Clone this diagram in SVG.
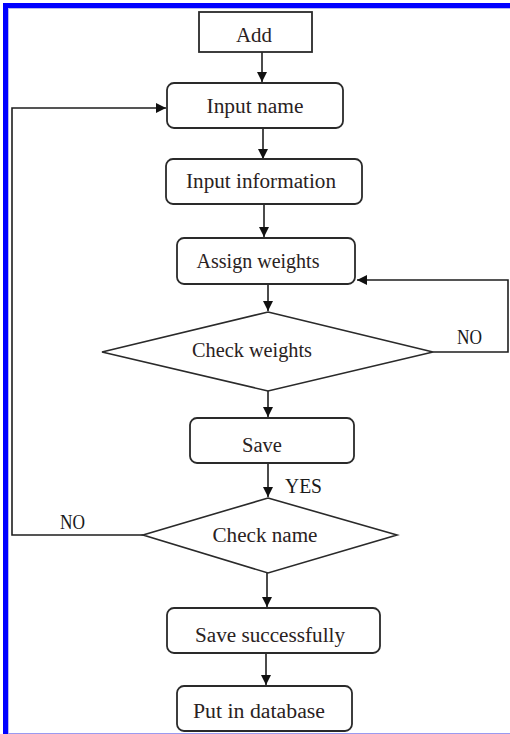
<svg xmlns="http://www.w3.org/2000/svg" width="510" height="734" viewBox="0 0 510 734">
  <style>
    .box { fill: #ffffff; stroke: #2a2a2a; stroke-width: 1.8; }
    .dia { fill: #ffffff; stroke: #2a2a2a; stroke-width: 1.6; }
    .lbl { font-family: "Liberation Serif", "Times New Roman", serif; font-size: 20px; fill: #2a2222; text-anchor: middle; }
    .yn { font-family: "Liberation Serif", "Times New Roman", serif; font-size: 21px; fill: #1a1a1a; }
    .ln { fill: none; stroke: #1e1e1e; stroke-width: 1.6; }
  </style>
  <defs>
    <marker id="arr" viewBox="0 0 10 10" refX="10" refY="5" markerWidth="10" markerHeight="10" markerUnits="userSpaceOnUse" orient="auto">
      <path d="M0,0 L10,5 L0,10 Z" fill="#111111"/>
    </marker>
  </defs>
  <rect x="0" y="0" width="510" height="734" fill="#ffffff"/>
  <g id="frame">
    <rect x="3" y="3" width="507" height="5" fill="#0000ff"/>
    <rect x="3" y="3" width="5" height="731" fill="#0000ff"/>
    <line x1="8" y1="8.5" x2="510" y2="8.5" stroke="#b8b8f0" stroke-width="1"/>
    <line x1="8.5" y1="8" x2="8.5" y2="734" stroke="#b8b8f0" stroke-width="1"/>
    <line x1="8" y1="733.5" x2="510" y2="733.5" stroke="#9a9af0" stroke-width="1"/>
  </g>
  <g id="connectors">
    <line class="ln" x1="262" y1="52" x2="262" y2="82" marker-end="url(#arr)"/>
    <line class="ln" x1="263" y1="128" x2="263" y2="159" marker-end="url(#arr)"/>
    <line class="ln" x1="264" y1="204" x2="264" y2="237" marker-end="url(#arr)"/>
    <line class="ln" x1="268" y1="284" x2="268" y2="311" marker-end="url(#arr)"/>
    <line class="ln" x1="268" y1="391" x2="268" y2="417" marker-end="url(#arr)"/>
    <line class="ln" x1="268" y1="463" x2="268" y2="497" marker-end="url(#arr)"/>
    <line class="ln" x1="267" y1="573" x2="267" y2="607" marker-end="url(#arr)"/>
    <line class="ln" x1="266" y1="653" x2="266" y2="685" marker-end="url(#arr)"/>
    <polyline class="ln" points="433,352 508,352 508,280 357,280" marker-end="url(#arr)"/>
    <polyline class="ln" points="143,535 12,535 12,108 166,108" marker-end="url(#arr)"/>
    <text class="yn" x="457" y="344" textLength="25" lengthAdjust="spacingAndGlyphs">NO</text>
    <text class="yn" x="285" y="493" textLength="37" lengthAdjust="spacingAndGlyphs">YES</text>
    <text class="yn" x="60" y="529" textLength="25" lengthAdjust="spacingAndGlyphs">NO</text>
  </g>
  <g id="add">
    <rect class="box" x="199" y="12" width="113" height="40"/>
    <text class="lbl" x="254" y="42" textLength="36" lengthAdjust="spacingAndGlyphs">Add</text>
  </g>
  <g id="input-name">
    <rect class="box" x="167" y="83" width="176" height="45" rx="7"/>
    <text class="lbl" x="255" y="113" textLength="97" lengthAdjust="spacingAndGlyphs">Input name</text>
  </g>
  <g id="input-information">
    <rect class="box" x="166" y="159" width="196" height="45" rx="7"/>
    <text class="lbl" x="261" y="188" textLength="150" lengthAdjust="spacingAndGlyphs">Input information</text>
  </g>
  <g id="assign-weights">
    <rect class="box" x="177" y="238" width="178" height="46" rx="7"/>
    <text class="lbl" x="258" y="268" textLength="123" lengthAdjust="spacingAndGlyphs">Assign weights</text>
  </g>
  <g id="check-weights">
    <polygon class="dia" points="268,312 433,352 268,391 102,352"/>
    <text class="lbl" x="252" y="357" textLength="120" lengthAdjust="spacingAndGlyphs">Check weights</text>
  </g>
  <g id="save">
    <rect class="box" x="190" y="418" width="164" height="45" rx="7"/>
    <text class="lbl" x="262" y="452" textLength="40" lengthAdjust="spacingAndGlyphs">Save</text>
  </g>
  <g id="check-name">
    <polygon class="dia" points="268,498 397,535 268,573 143,535"/>
    <text class="lbl" x="265" y="542" textLength="105" lengthAdjust="spacingAndGlyphs">Check name</text>
  </g>
  <g id="save-successfully">
    <rect class="box" x="167" y="608" width="213" height="45" rx="7"/>
    <text class="lbl" x="270" y="642" textLength="150" lengthAdjust="spacingAndGlyphs">Save successfully</text>
  </g>
  <g id="put-in-database">
    <rect class="box" x="177" y="686" width="175" height="45" rx="7"/>
    <text class="lbl" x="259" y="718" textLength="132" lengthAdjust="spacingAndGlyphs">Put in database</text>
  </g>
</svg>
